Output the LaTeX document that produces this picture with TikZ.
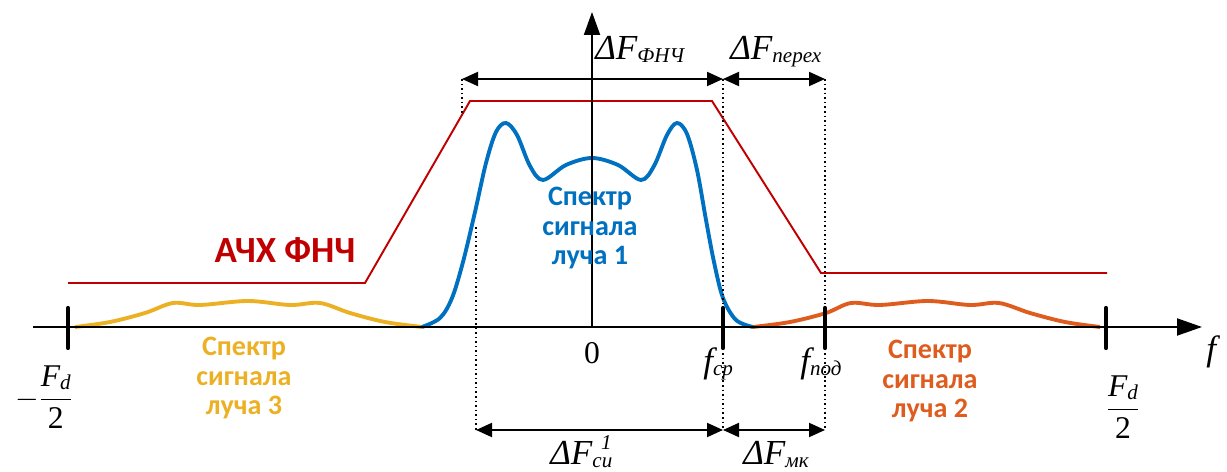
\documentclass[tikz,border=0pt]{standalone}
\usepackage{fontspec}
\setmainfont{Liberation Serif}
\newfontfamily\lblfont{Carlito}
\usetikzlibrary{arrows.meta}

\definecolor{afcred}{RGB}{192,0,0}
\definecolor{ray1}{RGB}{0,112,192}
\definecolor{ray2}{RGB}{222,92,30}
\definecolor{ray3}{RGB}{236,176,36}

\newcommand{\lowsub}[1]{\raisebox{-1.5pt}{\fontsize{12}{12}\selectfont\itshape #1}}

\begin{document}
\begin{tikzpicture}[x=0.02cm, y=-0.02cm,
    font=\fontsize{20}{22}\selectfont\itshape,
    axis/.style={draw=black, line width=1.1pt},
    tickmark/.style={draw=black, line width=2.4pt, line cap=round},
    dimarrow/.style={{Triangle[length=3.2mm,width=2.8mm]}-{Triangle[length=3.2mm,width=2.8mm]}, draw=black, line width=1.1pt},
    guide/.style={draw=black, line width=0.9pt, dash pattern=on 0.9pt off 1.7pt},
    afc/.style={draw=afcred, line width=1.1pt},
    spec/.style={draw=#1, line width=2.2pt, smooth, tension=0.55},
    speclabel/.style={text=#1, font=\lblfont\bfseries\fontsize{16}{17}\selectfont, align=center, inner sep=0pt},
    mlabel/.style={inner sep=0pt}
]
\useasboundingbox (0,0) rectangle (1227,472);

% axes and marks on the frequency axis
\coordinate (xstart) at (33,327);
\coordinate (xend) at (1202,327);
\coordinate (origin) at (592,327);
\coordinate (ytop) at (592,12);
\coordinate (mFdl) at (68,327);
\coordinate (mfcp) at (723,327);
\coordinate (mfpod) at (825,327);
\coordinate (mFdr) at (1106,327);

% filter response
\draw[afc] (68,283) -- (365,283) -- (470,101) -- (712,101) -- (821,273) -- (1107,273);

% spectra
\draw[spec=ray3] plot coordinates {(75,327) (110,322) (145,313) (173,303) (200,305) (248,301) (290,305) (320,303) (350,313) (385,322) (422,327)};
\draw[spec=ray2] plot coordinates {(753,327) (790,322) (826,313) (851,303) (880,305) (928,301) (970,305) (999,303) (1030,313) (1065,322) (1100,327)};
\draw[spec=ray1] plot coordinates {(422,327) (440,318) (452,298) (463,262) (475,212) (486,163) (496,132) (506,123) (517,135) (530,166) (543,180) (566,165) (592,158) (618,165) (641,180) (654,166) (667,135) (677,123) (687,134) (697,170) (706,220) (714,262) (723,298) (736,320) (753,327)};

\draw[axis, -{Triangle[length=5mm,width=3.4mm]}] (xstart) -- (xend);
\draw[axis, -{Triangle[length=4.6mm,width=3.2mm]}] (origin) -- (ytop);

\foreach \m in {mFdl,mfcp,mfpod,mFdr}
    \draw[tickmark] ([yshift=0.38cm]\m) -- ([yshift=-0.42cm]\m);

% dimension lines
\coordinate (tl) at (462,79);
\coordinate (tm) at (723,79);
\coordinate (tr) at (825,79);
\coordinate (bl) at (476,430);
\coordinate (bm) at (723,430);
\coordinate (br) at (825,430);
\draw[guide] (tl) -- (462,115);
\draw[guide] (476,227) -- (bl);
\draw[guide] (tm) -- (bm);
\draw[guide] (tr) -- (br);
\draw[dimarrow] (tl) -- (tm);
\draw[dimarrow] (tm) -- (tr);
\draw[dimarrow] (bl) -- (bm);
\draw[dimarrow] (bm) -- (br);

\node[mlabel, anchor=base west] (dffnch) at (595,60) {ΔF\lowsub{ФНЧ}};
\node[mlabel, anchor=base west] (dfper) at (730,60) {ΔF\lowsub{перех}};
\node[mlabel, anchor=base west] (dfsi) at (550,465) {ΔF\rlap{\hspace{5pt}\raisebox{9pt}{\fontsize{12}{12}\selectfont 1}}\lowsub{си}};
\node[mlabel, anchor=base west] (dfmk) at (743,465) {ΔF\lowsub{мк}};

\node[mlabel, anchor=base west] (fcp) at (703,373) {f\lowsub{ср}};
\node[mlabel, anchor=base west] (fpod) at (800,373) {f\lowsub{под}};
\node[mlabel, anchor=west] (faxis) at (1206,352) {f};
\node[mlabel, font=\fontsize{18}{20}\selectfont] (zero) at (592,353) {0};

\node[mlabel, font=\fontsize{18}{20}\selectfont\itshape] (Fdl) at (44,397)
    {$\displaystyle -\frac{\mbox{F\lowsub{d}}}{\mbox{\upshape 2}}$};
\node[mlabel, font=\fontsize{18}{20}\selectfont\itshape] (Fdr) at (1123,407)
    {$\displaystyle \frac{\mbox{F\lowsub{d}}}{\mbox{\upshape 2}}$};

\node[text=afcred, font=\lblfont\bfseries\fontsize{21}{23}\selectfont, inner sep=0pt] (afcname) at (285,250) {АЧХ ФНЧ};
\node[speclabel=ray1] (lab1) at (590,228) {Спектр\\сигнала\\луча 1};
\node[speclabel=ray3] (lab3) at (244,378) {Спектр\\сигнала\\луча 3};
\node[speclabel=ray2] (lab2) at (930,381) {Спектр\\сигнала\\луча 2};

\end{tikzpicture}
\end{document}
